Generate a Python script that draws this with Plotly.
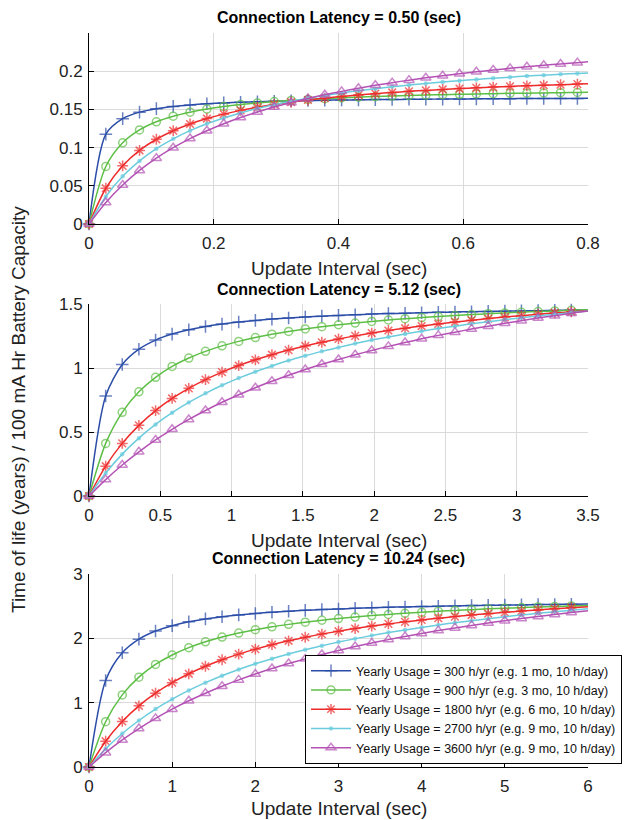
import plotly.graph_objects as go

# ---------------- data ----------------
titles = ["Connection Latency = 0.50 (sec)",
          "Connection Latency = 5.12 (sec)",
          "Connection Latency = 10.24 (sec)"]
series_names = [
    "Yearly Usage = 300 h/yr (e.g. 1 mo, 10 h/day)",
    "Yearly Usage = 900 h/yr (e.g. 3 mo, 10 h/day)",
    "Yearly Usage = 1800 h/yr (e.g. 6 mo, 10 h/day)",
    "Yearly Usage = 2700 h/yr (e.g. 9 mo, 10 h/day)",
    "Yearly Usage = 3600 h/yr (e.g. 9 mo, 10 h/day)",
]

x1 = [0, 0.027, 0.054, 0.081, 0.108, 0.135, 0.162, 0.189, 0.216, 0.243, 0.270,
      0.297, 0.324, 0.351, 0.378, 0.405, 0.432, 0.459, 0.486, 0.513, 0.540,
      0.567, 0.594, 0.621, 0.648, 0.675, 0.702, 0.729, 0.756, 0.783, 0.810]
p1_300 = [0, 0.1176, 0.1379, 0.1464, 0.1510, 0.1539, 0.1559, 0.1574, 0.1585, 0.1594, 0.1601,
          0.1607, 0.1612, 0.1616, 0.1620, 0.1623, 0.1625, 0.1628, 0.1630, 0.1632, 0.1634,
          0.1635, 0.1637, 0.1638, 0.1639, 0.1641, 0.1642, 0.1643, 0.1644, 0.1644, 0.1645]
p1_900 = [0, 0.0753, 0.1063, 0.1232, 0.1338, 0.1411, 0.1464, 0.1505, 0.1537, 0.1563, 0.1584,
          0.1602, 0.1617, 0.1630, 0.1641, 0.1651, 0.1660, 0.1668, 0.1675, 0.1681, 0.1687,
          0.1693, 0.1697, 0.1702, 0.1706, 0.1710, 0.1713, 0.1716, 0.1719, 0.1722, 0.1725]
p1_1800 = [0, 0.0468, 0.0761, 0.0963, 0.1109, 0.1221, 0.1309, 0.1380, 0.1438, 0.1487, 0.1529,
           0.1565, 0.1596, 0.1623, 0.1647, 0.1669, 0.1688, 0.1706, 0.1722, 0.1736, 0.1749,
           0.1761, 0.1773, 0.1783, 0.1792, 0.1801, 0.1809, 0.1817, 0.1824, 0.1831, 0.1838]
p1_2700 = [0, 0.0360, 0.0624, 0.0826, 0.0986, 0.1115, 0.1222, 0.1312, 0.1388, 0.1454, 0.1512,
           0.1562, 0.1607, 0.1647, 0.1683, 0.1715, 0.1744, 0.1771, 0.1796, 0.1818, 0.1839,
           0.1858, 0.1876, 0.1892, 0.1908, 0.1922, 0.1936, 0.1948, 0.1960, 0.1971, 0.1982]
p1_3600 = [0, 0.0282, 0.0511, 0.0701, 0.0862, 0.0999, 0.1118, 0.1221, 0.1313, 0.1394, 0.1466,
           0.1531, 0.1590, 0.1643, 0.1692, 0.1736, 0.1777, 0.1815, 0.1850, 0.1883, 0.1913,
           0.1941, 0.1967, 0.1992, 0.2015, 0.2037, 0.2057, 0.2077, 0.2095, 0.2112, 0.2129]

x2 = [0, 0.117, 0.233, 0.350, 0.467, 0.583, 0.700, 0.817, 0.933, 1.050, 1.167,
      1.283, 1.400, 1.517, 1.633, 1.750, 1.867, 1.983, 2.100, 2.217, 2.333,
      2.450, 2.567, 2.683, 2.800, 2.917, 3.033, 3.150, 3.267, 3.383, 3.500]
p2_300 = [0, 0.781, 1.027, 1.147, 1.218, 1.265, 1.299, 1.324, 1.343, 1.359, 1.372,
          1.382, 1.391, 1.399, 1.405, 1.411, 1.416, 1.421, 1.425, 1.428, 1.432,
          1.435, 1.437, 1.440, 1.442, 1.444, 1.446, 1.448, 1.450, 1.452, 1.453]
p2_900 = [0, 0.411, 0.654, 0.814, 0.927, 1.012, 1.078, 1.130, 1.173, 1.208, 1.238,
          1.264, 1.286, 1.305, 1.323, 1.338, 1.351, 1.364, 1.375, 1.385, 1.394,
          1.402, 1.410, 1.417, 1.424, 1.430, 1.436, 1.441, 1.446, 1.451, 1.455]
p2_1800 = [0, 0.233, 0.411, 0.552, 0.667, 0.762, 0.841, 0.909, 0.968, 1.019, 1.064,
           1.104, 1.140, 1.172, 1.201, 1.227, 1.251, 1.273, 1.293, 1.311, 1.328,
           1.344, 1.359, 1.373, 1.386, 1.398, 1.409, 1.420, 1.430, 1.439, 1.448]
p2_2700 = [0, 0.179, 0.327, 0.452, 0.559, 0.651, 0.731, 0.802, 0.865, 0.921, 0.971,
           1.016, 1.058, 1.095, 1.130, 1.161, 1.191, 1.218, 1.243, 1.266, 1.288,
           1.308, 1.327, 1.345, 1.362, 1.378, 1.393, 1.407, 1.420, 1.433, 1.445]
p2_3600 = [0, 0.128, 0.242, 0.345, 0.438, 0.521, 0.598, 0.668, 0.732, 0.791, 0.846,
           0.896, 0.944, 0.988, 1.029, 1.067, 1.103, 1.137, 1.169, 1.199, 1.228,
           1.255, 1.280, 1.304, 1.327, 1.349, 1.370, 1.390, 1.409, 1.428, 1.445]

x3 = [0, 0.2, 0.4, 0.6, 0.8, 1.0, 1.2, 1.4, 1.6, 1.8, 2.0,
      2.2, 2.4, 2.6, 2.8, 3.0, 3.2, 3.4, 3.6, 3.8, 4.0,
      4.2, 4.4, 4.6, 4.8, 5.0, 5.2, 5.4, 5.6, 5.8, 6.0]
p3_300 = [0, 1.344, 1.775, 1.987, 2.113, 2.197, 2.257, 2.302, 2.336, 2.364, 2.387,
          2.405, 2.421, 2.435, 2.447, 2.457, 2.466, 2.474, 2.482, 2.488, 2.494,
          2.499, 2.504, 2.509, 2.513, 2.517, 2.520, 2.524, 2.527, 2.529, 2.532]
p3_900 = [0, 0.704, 1.121, 1.397, 1.594, 1.741, 1.855, 1.946, 2.020, 2.082, 2.134,
          2.179, 2.217, 2.251, 2.281, 2.308, 2.331, 2.353, 2.372, 2.389, 2.405,
          2.420, 2.434, 2.446, 2.458, 2.468, 2.478, 2.488, 2.496, 2.504, 2.512]
p3_1800 = [0, 0.401, 0.708, 0.951, 1.148, 1.311, 1.449, 1.566, 1.667, 1.755, 1.832,
           1.901, 1.962, 2.017, 2.066, 2.111, 2.152, 2.190, 2.224, 2.256, 2.285,
           2.313, 2.338, 2.362, 2.384, 2.404, 2.424, 2.442, 2.459, 2.476, 2.491]
p3_2700 = [0, 0.282, 0.520, 0.723, 0.900, 1.054, 1.190, 1.311, 1.419, 1.516, 1.604,
           1.684, 1.757, 1.824, 1.885, 1.942, 1.994, 2.043, 2.089, 2.131, 2.170,
           2.208, 2.243, 2.275, 2.306, 2.335, 2.363, 2.389, 2.414, 2.438, 2.460]
p3_3600 = [0, 0.223, 0.421, 0.598, 0.756, 0.899, 1.029, 1.147, 1.255, 1.354, 1.445,
           1.530, 1.608, 1.681, 1.749, 1.812, 1.872, 1.927, 1.980, 2.029, 2.076,
           2.120, 2.162, 2.201, 2.239, 2.274, 2.308, 2.341, 2.371, 2.401, 2.429]

panels = [
    (x1, [p1_300, p1_900, p1_1800, p1_2700, p1_3600]),
    (x2, [p2_300, p2_900, p2_1800, p2_2700, p2_3600]),
    (x3, [p3_300, p3_900, p3_1800, p3_2700, p3_3600]),
]
x_ranges = [[0, 0.8], [0, 3.5], [0, 6]]
x_dticks = [0.2, 0.5, 1]
y_ranges = [[0, 0.25], [0, 1.5], [0, 3]]
y_tickvals = [[0, 0.05, 0.1, 0.15, 0.2], [0, 0.5, 1, 1.5], [0, 1, 2, 3]]

# ---------------- style ----------------
W, H = 640, 820
OFF = 8  # page body margin offset
FONT = "Liberation Sans, Arial, Helvetica, sans-serif"
colors = ["#2B4DA8", "#5DBE45", "#EE2B2B", "#6BCCDD", "#B452B4"]
symbols = ["cross-thin-open", "circle-open", "asterisk-open", "circle", "triangle-up-open"]
msizes = [9, 8, 9, 3, 9]


def fx(px):
    return (px - OFF) / W


def fy(py):
    return 1 - (py - OFF) / H


ax_left, ax_right = 89, 588
boxes = [(33, 224), (304, 496), (574, 767)]
title_y = [17, 289, 558]
xlabel_y = [268, 540, 808]

fig = go.Figure()

for i, (xs, ys_list) in enumerate(panels):
    xa = "x" if i == 0 else f"x{i+1}"
    ya = "y" if i == 0 else f"y{i+1}"
    for j, ys in enumerate(ys_list):
        sizes = [msizes[j]] * (len(xs) - 1) + [0]
        fig.add_trace(go.Scatter(
            x=xs, y=ys, xaxis=xa, yaxis=ya,
            mode="lines+markers",
            name=series_names[j],
            showlegend=(i == 2),
            cliponaxis=False,
            line=dict(color=colors[j], width=1.5, shape="spline", smoothing=0.8),
            marker=dict(symbol=symbols[j], size=sizes, color=colors[j],
                        line=dict(color=colors[j], width=1.5)),
        ))

layout = dict(
    width=W, height=H,
    margin=dict(l=0, r=0, t=0, b=0, autoexpand=False),
    paper_bgcolor="white", plot_bgcolor="white",
    font=dict(family=FONT, size=17, color="#222222"),
    showlegend=True,
    legend=dict(
        x=fx(305), y=fy(655), xanchor="left", yanchor="top",
        bgcolor="white", bordercolor="black", borderwidth=1,
        font=dict(family=FONT, size=12.5, color="#111111"),
        itemwidth=40, tracegroupgap=0,
    ),
)

annotations = []
for i in range(3):
    top, bot = boxes[i]
    xk = "xaxis" if i == 0 else f"xaxis{i+1}"
    yk = "yaxis" if i == 0 else f"yaxis{i+1}"
    ya = "y" if i == 0 else f"y{i+1}"
    xa = "x" if i == 0 else f"x{i+1}"
    layout[xk] = dict(
        domain=[fx(ax_left), fx(ax_right)], anchor=ya, automargin=False,
        range=x_ranges[i], dtick=x_dticks[i], tick0=0,
        showgrid=True, gridcolor="#DADADA", gridwidth=1,
        zeroline=False, showline=True, linecolor="black", linewidth=1,
        ticks="inside", ticklen=5, tickcolor="black",
        ticklabelstandoff=4,
        tickfont=dict(family=FONT, size=17, color="#222222"),
    )
    layout[yk] = dict(
        domain=[fy(bot), fy(top)], anchor=xa, automargin=False,
        range=y_ranges[i], tickvals=y_tickvals[i],
        showgrid=True, gridcolor="#DADADA", gridwidth=1,
        zeroline=False, showline=True, linecolor="black", linewidth=1,
        ticks="inside", ticklen=5, tickcolor="black",
        ticklabelstandoff=2,
        tickfont=dict(family=FONT, size=17, color="#222222"),
    )
    annotations.append(dict(
        text="<b>" + titles[i] + "</b>", xref="paper", yref="paper",
        x=fx((ax_left + ax_right) / 2), y=fy(title_y[i]),
        xanchor="center", yanchor="middle", showarrow=False,
        font=dict(family=FONT, size=16, color="black"),
    ))
    annotations.append(dict(
        text="Update Interval (sec)", xref="paper", yref="paper",
        x=fx((ax_left + ax_right) / 2), y=fy(xlabel_y[i]),
        xanchor="center", yanchor="middle", showarrow=False,
        font=dict(family=FONT, size=19, color="#222222"),
    ))

annotations.append(dict(
    text="Time of life (years) / 100 mA Hr Battery Capacity",
    xref="paper", yref="paper", x=fx(18), y=fy(410),
    xanchor="center", yanchor="middle", textangle=-90, showarrow=False,
    font=dict(family=FONT, size=19, color="#222222"),
))
layout["annotations"] = annotations

fig.update_layout(**layout)
fig.write_html("out.html")
